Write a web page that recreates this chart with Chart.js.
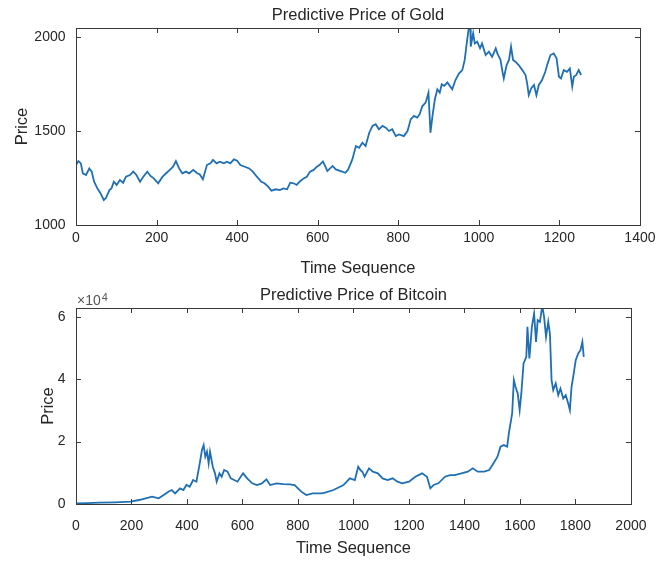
<!DOCTYPE html>
<html>
<head>
<meta charset="utf-8">
<script src="https://cdn.jsdelivr.net/npm/chart.js@4.4.1/dist/chart.umd.min.js"></script>
<style>
  html, body { margin: 0; padding: 0; background: #ffffff; }
  #wrap { position: relative; width: 660px; height: 561px; overflow: hidden; }
  canvas { position: absolute; left: 0; }
  #gold { top: 0; }
  #btc { top: 280px; }
</style>
</head>
<body>
<div id="wrap">
  <canvas id="gold" width="660" height="280"></canvas>
  <canvas id="btc" width="660" height="281"></canvas>
</div>
<script>
// Gold: time step and predicted price
const goldTime = [0,6,12,17,25,33,39,45,53,61,69,74,83,88,94,101,109,117,124,134,142,150,159,167,177,185,193,204,215,225,233,241,248,256,264,273,281,291,301,307,315,325,334,340,349,357,367,375,383,392,400,408,419,430,439,449,460,468,477,485,496,506,515,524,532,540,548,555,565,573,581,590,598,605,613,618,624,637,645,657,669,676,686,695,703,711,719,728,736,744,752,761,769,777,785,794,802,814,823,831,839,847,853,860,868,875,880,885,891,897,903,908,914,922,934,942,951,959,965,971,975,979,980,986,990,996,1003,1008,1017,1025,1033,1042,1046,1054,1058,1062,1069,1075,1080,1085,1091,1099,1108,1116,1120,1124,1130,1137,1143,1149,1157,1165,1171,1178,1186,1193,1199,1204,1211,1219,1226,1232,1236,1242,1248,1254];
const goldPrice = [1319,1340,1328,1275,1266,1301,1284,1230,1195,1168,1133,1142,1186,1195,1230,1213,1239,1225,1257,1266,1284,1266,1230,1257,1284,1261,1248,1222,1257,1278,1293,1310,1340,1301,1275,1284,1275,1293,1275,1270,1243,1319,1328,1346,1328,1337,1328,1337,1328,1349,1342,1319,1310,1301,1284,1257,1230,1222,1204,1183,1190,1186,1195,1190,1225,1222,1213,1230,1248,1257,1284,1293,1310,1320,1338,1316,1287,1314,1296,1287,1278,1296,1349,1420,1411,1438,1420,1491,1527,1536,1509,1527,1518,1500,1509,1473,1482,1473,1500,1562,1580,1571,1589,1633,1651,1704,1491,1580,1669,1722,1704,1749,1740,1758,1722,1771,1807,1824,1878,1984,2046,2040,1949,2020,1966,1975,1940,1966,1904,1922,1895,1940,1913,1878,1824,1780,1851,1878,1949,1878,1869,1851,1824,1798,1753,1691,1727,1745,1691,1745,1771,1815,1860,1904,1913,1887,1789,1780,1824,1815,1833,1736,1789,1798,1824,1798];

// Bitcoin: time step and predicted price
const btcTime = [0,40,85,140,197,227,251,274,298,316,333,345,357,375,387,398,410,422,434,446,454,460,466,472,478,483,493,501,507,517,525,534,546,558,570,582,602,617,635,652,670,686,700,723,747,771,788,800,812,830,853,883,895,928,964,987,1005,1017,1025,1032,1040,1056,1070,1088,1105,1123,1141,1159,1176,1200,1223,1247,1265,1277,1289,1306,1330,1348,1365,1389,1412,1430,1448,1471,1489,1501,1519,1530,1542,1554,1560,1572,1578,1584,1592,1599,1605,1613,1623,1627,1634,1643,1651,1658,1664,1672,1678,1682,1687,1694,1702,1708,1714,1720,1729,1738,1746,1756,1765,1774,1780,1786,1792,1801,1810,1818,1825,1830];
const btcPrice = [200,300,430,550,750,1280,1810,2350,1810,2880,3950,4480,3410,5010,4480,6080,5550,7680,7150,13020,17280,18880,15150,16750,13020,16750,11950,9820,7150,9820,8750,10880,10350,8220,7680,7150,9820,8220,6620,6080,6620,7900,6080,6620,6400,6300,6080,5010,3950,2880,3410,3410,3600,4480,6080,8220,7680,11950,10880,10350,8750,11420,10350,9820,8220,7680,8220,7150,6620,7150,8750,9820,8750,5010,6080,6620,8750,9280,9280,9820,10350,11420,10350,10350,10880,12480,15150,18350,18880,18350,22620,29000,39700,37560,35420,30090,35420,45030,47160,56760,46630,56760,61030,51960,58900,58370,62100,62700,59970,53560,58370,54630,39700,36490,38630,34890,37020,33820,34890,32220,30090,37560,40760,46100,48230,49300,51960,47160];

// Axis ticks
const goldXTicks = [0, 200, 400, 600, 800, 1000, 1200, 1400];
const goldYTicks = [1000, 1500, 2000];
const btcXTicks = [0, 200, 400, 600, 800, 1000, 1200, 1400, 1600, 1800, 2000];
const btcYTicks = [0, 20000, 40000, 60000];
const btcYTickLabels = ['0', '2', '4', '6'];

const FONT = '"Liberation Sans", Arial, Helvetica, sans-serif';
const INK = '#262626';
const AXIS = '#3a3a3a';
const LINE = '#1f6fb2';

Chart.defaults.font.family = FONT;
Chart.defaults.color = INK;

// Box around the plot area with inward tick marks on all four sides
const boxTicks = {
  id: 'boxTicks',
  afterDraw(chart) {
    const { ctx, chartArea: a, scales } = chart;
    const L = 5;
    ctx.save();
    ctx.strokeStyle = AXIS;
    ctx.lineWidth = 1;
    ctx.beginPath();
    scales.x.ticks.forEach(t => {
      const px = Math.round(scales.x.getPixelForValue(t.value)) + 0.5;
      ctx.moveTo(px, a.bottom); ctx.lineTo(px, a.bottom - L);
      ctx.moveTo(px, a.top); ctx.lineTo(px, a.top + L);
    });
    scales.y.ticks.forEach(t => {
      const py = Math.round(scales.y.getPixelForValue(t.value)) + 0.5;
      ctx.moveTo(a.left, py); ctx.lineTo(a.left + L, py);
      ctx.moveTo(a.right, py); ctx.lineTo(a.right - L, py);
    });
    ctx.stroke();
    ctx.strokeRect(Math.round(a.left) + 0.5, Math.round(a.top) + 0.5,
                   Math.round(a.right - a.left), Math.round(a.bottom - a.top));
    ctx.restore();
  }
};

// "×10^4" multiplier written above the y axis
const expLabel = {
  id: 'expLabel',
  afterDraw(chart, args, opts) {
    if (!opts || !opts.text) return;
    const { ctx, chartArea: a } = chart;
    ctx.save();
    ctx.fillStyle = '#555555';
    ctx.textBaseline = 'alphabetic';
    ctx.textAlign = 'left';
    ctx.font = '14px ' + FONT;
    const base = a.left + 1;
    ctx.fillText(opts.text, base, a.top - 3);
    const w = ctx.measureText(opts.text).width;
    ctx.font = '11px ' + FONT;
    ctx.fillText(opts.sup, base + w + 1, a.top - 7);
    ctx.restore();
  }
};

function points(xs, ys) {
  return xs.map((x, i) => ({ x: x, y: ys[i] }));
}

function makeChart(id, cfg) {
  return new Chart(document.getElementById(id), {
    type: 'line',
    data: {
      datasets: [{
        data: points(cfg.xs, cfg.ys),
        borderColor: LINE,
        borderWidth: 1.8,
        pointRadius: 0,
        tension: 0,
        fill: false
      }]
    },
    options: {
      responsive: false,
      animation: false,
      devicePixelRatio: 1,
      layout: { padding: { left: 0, right: cfg.padRight, top: 0, bottom: 0 } },
      plugins: {
        legend: { display: false },
        tooltip: { enabled: false },
        title: {
          display: true,
          text: cfg.title,
          fullSize: false,
          color: INK,
          font: { size: 16.5, weight: 'normal', family: FONT },
          padding: { top: 5.5, bottom: 2.7 }
        },
        expLabel: cfg.exp || {}
      },
      scales: {
        x: {
          type: 'linear',
          min: cfg.xTicks[0],
          max: cfg.xTicks[cfg.xTicks.length - 1],
          afterBuildTicks: s => { s.ticks = cfg.xTicks.map(v => ({ value: v })); },
          afterFit: s => { s.height = cfg.xHeight; },
          grid: { display: false, drawTicks: false },
          border: { display: false },
          ticks: {
            color: INK, font: { size: 14 }, padding: cfg.xTickPad,
            maxRotation: 0, autoSkip: false,
            callback: v => String(v)
          },
          title: {
            display: true,
            text: 'Time Sequence',
            color: INK,
            font: { size: 16.5 },
            padding: { top: 0, bottom: cfg.xTitlePad }
          }
        },
        y: {
          type: 'linear',
          min: cfg.yMin,
          max: cfg.yMax,
          afterBuildTicks: s => { s.ticks = cfg.yTicks.map(v => ({ value: v })); },
          afterFit: s => { s.width = 76; },
          grid: { display: false, drawTicks: false },
          border: { display: false },
          ticks: {
            color: INK,
            font: { size: 14 },
            padding: 10.5,
            callback: cfg.yLabel
          },
          title: {
            display: true,
            text: 'Price',
            color: INK,
            font: { size: 16.5 },
            padding: { top: cfg.yTitlePad, bottom: 0 }
          }
        }
      }
    },
    plugins: [boxTicks, expLabel]
  });
}

makeChart('gold', {
  xs: goldTime, ys: goldPrice,
  title: 'Predictive Price of Gold',
  xTicks: goldXTicks, yTicks: goldYTicks,
  yMin: 1000, yMax: 2048,
  yLabel: v => String(v),
  padRight: 19, xHeight: 55, xTickPad: 4.5, xTitlePad: 1.5, yTitlePad: 13
});

makeChart('btc', {
  xs: btcTime, ys: btcPrice,
  title: 'Predictive Price of Bitcoin',
  xTicks: btcXTicks, yTicks: btcYTicks,
  yMin: 0, yMax: 62800,
  yLabel: v => btcYTickLabels[btcYTicks.indexOf(v)],
  padRight: 20, xHeight: 57, xTickPad: 13.5, xTitlePad: 2.5, yTitlePad: 38.5,
  exp: { text: '\u00d710', sup: '4' }
});
</script>
</body>
</html>
